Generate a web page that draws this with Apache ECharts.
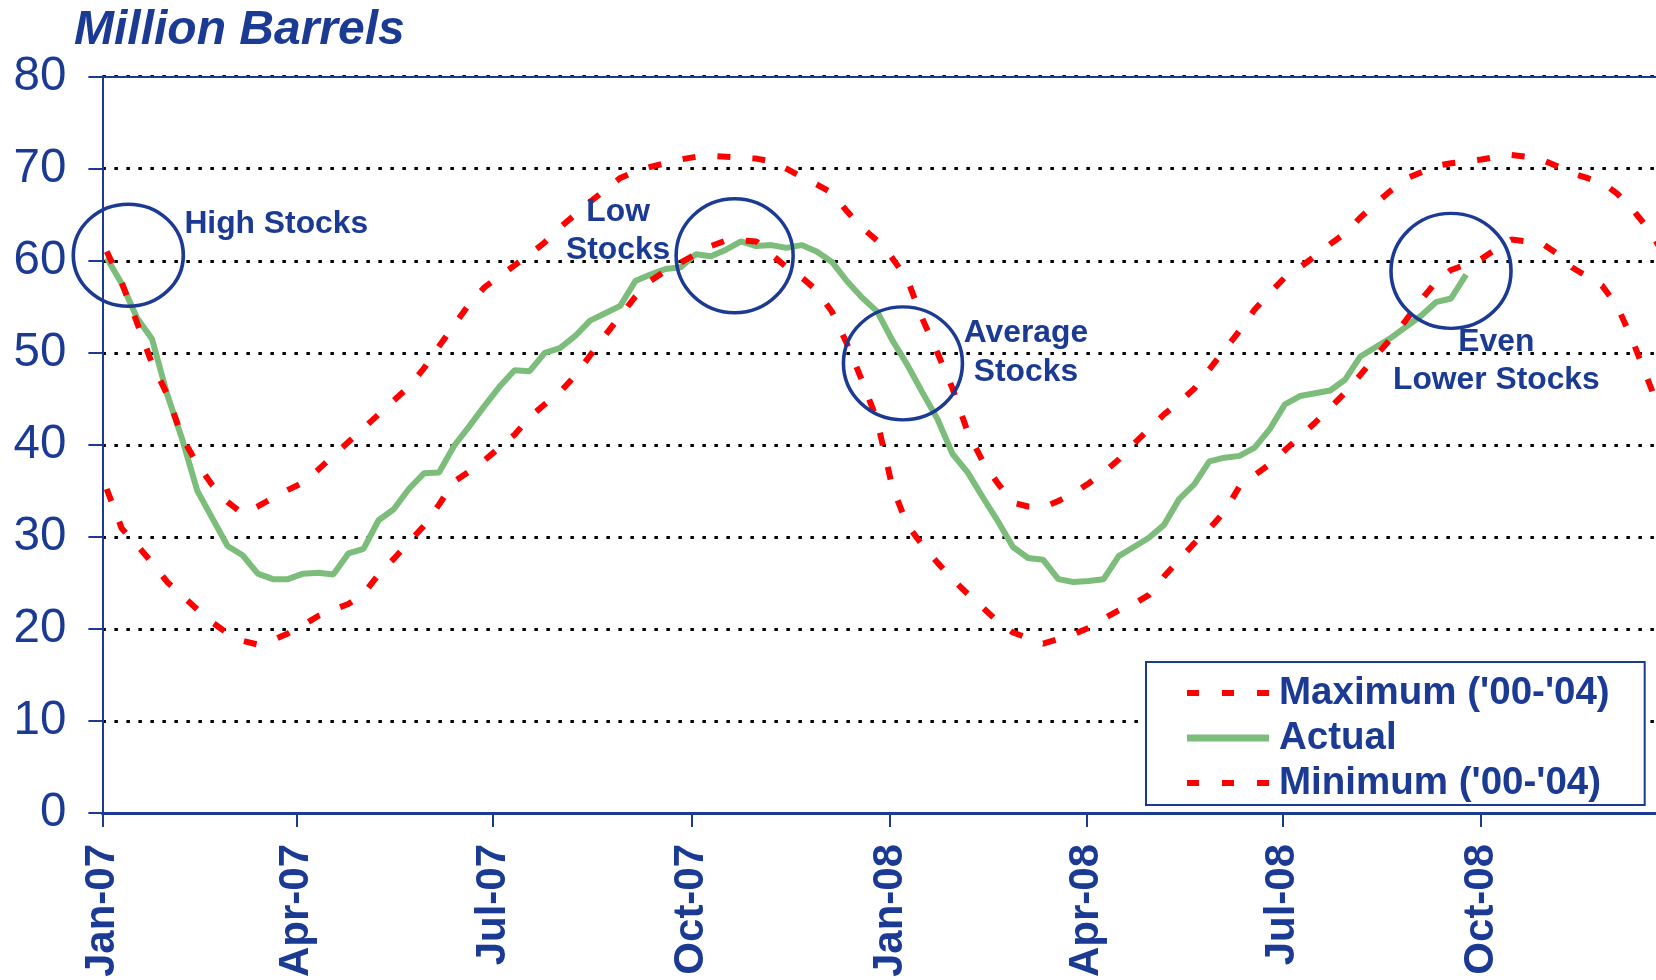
<!DOCTYPE html>
<html><head><meta charset="utf-8">
<script src="https://cdn.jsdelivr.net/npm/echarts@6/dist/echarts.min.js"></script>
<style>html,body{margin:0;padding:0;background:#fff}#c{width:1656px;height:980px}</style>
</head><body><div id="c"></div>
<script>
// ---- data ----
const firstWeek = '2007-01-03';        // weekly observations start here
const axisStart = '2007-01-01';
const axisEnd = '2008-12-21';          // right edge of the visible plot
const tickDates = ['2007-01-01','2007-04-01','2007-07-01','2007-10-01','2008-01-01','2008-04-01','2008-07-01','2008-10-01'];
const tickLabels = ['Jan-07','Apr-07','Jul-07','Oct-07','Jan-08','Apr-08','Jul-08','Oct-08'];
const seriesNames = ["Maximum ('00-'04)", 'Actual', "Minimum ('00-'04)"];

const actual = [60.3,57.5,53.8,51.5,45.5,40.6,35.0,32.0,29.0,28.0,
  26.0,25.4,25.4,26.0,26.1,25.9,28.2,28.7,31.8,33.0,
  35.2,36.9,37.0,39.9,42.0,44.2,46.3,48.1,48.0,50.0,
  50.5,51.8,53.5,54.3,55.1,57.8,58.5,59.1,59.3,60.7,
  60.5,61.2,62.1,61.6,61.7,61.4,61.7,61.0,59.9,57.8,
  56.0,54.5,51.4,48.7,45.7,42.8,39.0,37.0,34.3,31.7,
  28.9,27.7,27.5,25.4,25.1,25.2,25.4,27.9,28.9,29.9,
  31.3,34.1,35.7,38.2,38.6,38.8,39.7,41.7,44.4,45.3,
  45.6,45.9,47.1,49.6,50.6,51.6,52.8,54.0,55.5,55.9,58.5];

const maximum = [61.0,57.6,53.3,48.8,45.5,40.8,37.9,35.6,33.8,32.5,
  33.3,34.2,35.1,35.9,37.3,38.8,40.3,41.8,43.3,44.8,
  46.3,48.3,50.7,53.0,55.3,57.1,58.3,59.5,60.7,62.0,
  63.6,65.0,66.4,67.7,69.0,69.7,70.2,70.6,71.0,71.3,
  71.4,71.3,71.2,71.1,70.8,70.0,69.1,68.3,67.4,65.4,
  63.6,62.2,60.3,58.0,53.7,50.0,46.1,41.4,38.2,35.8,
  33.7,33.3,33.2,33.9,34.7,35.8,37.0,38.4,40.1,41.7,
  43.3,44.6,46.1,48.2,50.3,52.4,54.7,56.5,58.2,59.3,
  60.5,61.8,63.0,64.7,66.2,67.6,68.9,69.6,70.3,70.6,
  70.8,71.0,71.3,71.5,71.3,71.0,70.3,69.5,69.0,68.5,
  67.3,65.6,63.6,61.0];

const minimum = [35.2,30.9,29.1,27.2,25.1,23.6,22.1,20.7,19.5,18.7,
  18.3,18.8,19.5,20.4,21.4,22.1,22.7,23.8,25.9,27.6,
  29.4,31.2,33.5,36.0,37.1,38.3,39.7,41.1,43.0,44.4,
  45.7,47.5,49.7,51.9,54.0,56.1,57.8,58.9,59.8,60.7,
  61.6,62.2,62.2,62.1,60.7,59.3,58.2,56.8,54.5,51.0,
  47.0,42.7,35.5,31.3,29.1,27.2,25.4,23.8,22.3,20.8,
  19.6,19.0,18.4,18.9,19.4,20.1,21.1,22.0,22.7,23.7,
  25.7,27.5,29.3,30.9,32.7,35.5,36.7,37.9,39.4,40.9,
  42.4,44.0,45.7,47.6,49.6,51.5,53.5,55.7,57.7,59.0,
  59.6,60.2,61.3,62.3,62.1,61.9,60.8,59.3,58.3,57.3,
  55.1,51.4,47.2,43.0];

// ---- helpers ----
function d(s){const p=s.split('-').map(Number);return new Date(p[0],p[1]-1,p[2]).getTime();}
function week(i){const p=firstWeek.split('-').map(Number);return new Date(p[0],p[1]-1,p[2]+7*i).getTime();}
function pairs(arr){return arr.map((v,i)=>[week(i),v]);}
const tickTimes = tickDates.map(d);

const BLUE = '#1b3a93';
const RED = '#ff0000';
const GREEN = '#7dbd7b';
const FONT = 'Arial, "Liberation Sans", sans-serif';
const ellipse = 'path://M0,50 A50,50 0 1,0 100,50 A50,50 0 1,0 0,50 Z';
const dashIcon = 'path://M0,0h12v6h-12z M35,0h12v6h-12z M70,0h12v6h-12z';
const solidIcon = 'path://M0,0h82v7h-82z';

const chart = echarts.init(document.getElementById('c'));
chart.setOption({
  animation: false,
  backgroundColor: '#fff',
  grid: {left: 102.4, top: 76.7, bottom: 165.7, right: 0, show: false},
  graphic: [{
    type: 'text', left: 74, top: 7,
    style: {text: 'Million Barrels', fill: BLUE, font: 'italic bold 48px ' + FONT}
  }],
  legend: {
    orient: 'vertical', left: 1146, top: 662,
    itemWidth: 82, itemHeight: 14, itemGap: 5,
    padding: [11, 35, 2, 41],
    backgroundColor: '#fff', borderColor: BLUE, borderWidth: 2,
    textStyle: {fontSize: 38.5, fontWeight: 'bold', color: BLUE, fontFamily: FONT,
                lineHeight: 40, padding: [0, 0, 0, 5]},
    data: [
      {name: seriesNames[0], icon: dashIcon, itemStyle: {color: RED}},
      {name: seriesNames[1], icon: solidIcon, itemStyle: {color: GREEN}},
      {name: seriesNames[2], icon: dashIcon, itemStyle: {color: RED}}
    ]
  },
  xAxis: [{
    type: 'value', min: d(axisStart), max: d(axisEnd),
    axisLine: {show: true, lineStyle: {color: BLUE, width: 3}},
    axisTick: {show: true, length: 14, lineStyle: {color: BLUE, width: 2}, customValues: tickTimes},
    axisLabel: {
      customValues: tickTimes, rotate: 90, margin: 31,
      fontSize: 42, fontWeight: 'bold', color: BLUE, fontFamily: FONT,
      formatter: function (v) { const i = tickTimes.indexOf(v); return i >= 0 ? tickLabels[i] : ''; }
    },
    splitLine: {show: false}
  }, {
    type: 'value', position: 'top', min: d(axisStart), max: d(axisEnd),
    axisLine: {show: true, onZero: false, lineStyle: {color: BLUE, width: 2}},
    axisTick: {show: false}, axisLabel: {show: false}, splitLine: {show: false}
  }],
  yAxis: {
    type: 'value', min: 0, max: 80, interval: 10,
    axisLine: {show: true, lineStyle: {color: BLUE, width: 2}},
    axisTick: {show: true, length: 14, lineStyle: {color: BLUE, width: 2}},
    axisLabel: {fontSize: 47.5, color: BLUE, fontFamily: FONT, margin: 36},
    splitLine: {show: true, lineStyle: {color: '#000', width: 3, type: [3.5, 8.5]}}
  },
  series: [
    {
      name: seriesNames[0], type: 'line', data: pairs(maximum),
      symbol: 'none', showSymbol: false, clip: false, z: 3,
      lineStyle: {color: RED, width: 6, type: [13, 22]}, itemStyle: {color: RED},
      markPoint: {
        silent: true, symbol: 'circle', symbolSize: 0,
        itemStyle: {color: 'transparent'},
        label: {show: true, color: BLUE, fontSize: 31.8, fontWeight: 'bold', fontFamily: FONT,
                lineHeight: 38.5, position: 'inside'},
        data: [
          {coord: [d('2007-02-08'), 64.0], label: {formatter: 'High Stocks', position: 'right', distance: 0, align: 'left'}},
          {coord: [d('2007-08-28'), 63.2], label: {formatter: 'Low\nStocks', align: 'center'}},
          {coord: [d('2008-03-04'), 50.0], label: {formatter: 'Average\nStocks', align: 'center'}},
          {coord: [d('2008-10-08'), 49.1], label: {formatter: 'Even\nLower Stocks', align: 'center'}}
        ]
      }
    },
    {
      name: seriesNames[1], type: 'line', data: pairs(actual),
      symbol: 'none', showSymbol: false, clip: false, z: 2,
      lineStyle: {color: GREEN, width: 6}, itemStyle: {color: GREEN},
      markPoint: {
        silent: true, symbol: ellipse,
        itemStyle: {color: 'transparent', borderColor: BLUE, borderWidth: 3.5},
        label: {show: false},
        data: [
          {coord: [d('2007-01-13'), 60.6], symbolSize: [110, 102]},
          {coord: [d('2007-10-21'), 60.55], symbolSize: [117, 114]},
          {coord: [d('2008-01-07'), 48.85], symbolSize: [119, 113]},
          {coord: [d('2008-09-17'), 58.9], symbolSize: [120, 115]}
        ]
      }
    },
    {
      name: seriesNames[2], type: 'line', data: pairs(minimum),
      symbol: 'none', showSymbol: false, clip: false, z: 3,
      lineStyle: {color: RED, width: 6, type: [13, 22]}, itemStyle: {color: RED}
    }
  ]
});
</script>
</body></html>
